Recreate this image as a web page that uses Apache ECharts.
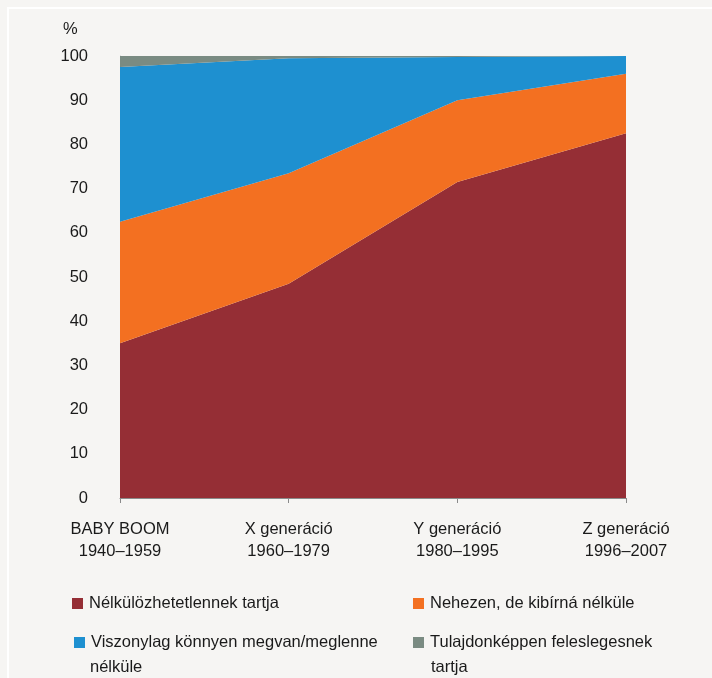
<!DOCTYPE html>
<html>
<head>
<meta charset="utf-8">
<script src="https://cdn.jsdelivr.net/npm/echarts@6/dist/echarts.min.js"></script>
<style>
html,body{margin:0;padding:0;background:#f6f5f3;}
#c{width:712px;height:678px;}
</style>
</head>
<body>
<div id="c"></div>
<script>
const categories = ['BABY BOOM\n1940–1959', 'X generáció\n1960–1979', 'Y generáció\n1980–1995', 'Z generáció\n1996–2007'];
const seriesNames = ['Nélkülözhetetlennek tartja', 'Nehezen, de kibírná nélküle', 'Viszonylag könnyen megvan/meglenne', 'Tulajdonképpen feleslegesnek'];
const essential = [35, 48.5, 71.5, 82.5];
const hardButOk = [27.5, 25, 18.5, 13.5];
const easy = [35, 26, 9.8, 4];
const unnecessary = [2.5, 0.5, 0.2, 0];
const yTicks = [0, 100, 10];
const colors = ['#952e35', '#f37021', '#1e90d0', '#7a8b82'];

const FONT = "'Liberation Sans', Arial, sans-serif";
const FS = 16.5;
const chart = echarts.init(document.getElementById('c'));

function mkSeries(name, data, color) {
  return {
    name: name, type: 'line', stack: 'total', data: data,
    symbol: 'none', smooth: false,
    lineStyle: { width: 0, color: color },
    itemStyle: { color: color },
    areaStyle: { color: color, opacity: 1 },
    emphasis: { disabled: true }
  };
}

function mkLegend(name, left, top) {
  return {
    data: [name], left: left, top: top, padding: 0,
    orient: 'horizontal', icon: 'rect', itemWidth: 11, itemHeight: 11,
    selectedMode: false,
    textStyle: { fontFamily: FONT, fontSize: FS, color: '#1a1a1a', padding: [0, 0, 0, 1] }
  };
}

chart.setOption({
  backgroundColor: '#f6f5f3',
  animation: false,
  grid: { left: 120, right: 86, top: 56, bottom: 180, containLabel: false, outerBoundsMode: 'none' },
  xAxis: {
    type: 'category', data: categories, boundaryGap: false,
    axisLine: { lineStyle: { color: '#8a8a8a', width: 1 } },
    axisTick: { show: true, length: 5, lineStyle: { color: '#8a8a8a' } },
    axisLabel: { fontFamily: FONT, fontSize: FS, color: '#1a1a1a', margin: 20, lineHeight: 22, interval: 0 },
    splitLine: { show: false }
  },
  yAxis: {
    type: 'value', min: yTicks[0], max: yTicks[1], interval: yTicks[2],
    axisLine: { show: true, lineStyle: { color: '#c4c4c4', width: 1 } },
    axisTick: { show: false },
    axisLabel: { fontFamily: FONT, fontSize: FS, color: '#1a1a1a', margin: 32 },
    splitLine: { show: false }
  },
  legend: [
    mkLegend(seriesNames[0], 72, 595),
    mkLegend(seriesNames[1], 413, 595),
    mkLegend(seriesNames[2], 74, 634),
    mkLegend(seriesNames[3], 413, 634)
  ],
  graphic: [
    { type: 'rect', shape: { x: 8, y: 8, width: 800, height: 800 }, style: { fill: 'none', stroke: '#ffffff', lineWidth: 2 }, z: 0, silent: true },
    { type: 'text', left: 63, top: 21, style: { text: '%', fontFamily: FONT, fontSize: FS, fill: '#1a1a1a' } },
    { type: 'text', left: 90, top: 659, style: { text: 'nélküle', fontFamily: FONT, fontSize: FS, fill: '#1a1a1a' } },
    { type: 'text', left: 431, top: 659, style: { text: 'tartja', fontFamily: FONT, fontSize: FS, fill: '#1a1a1a' } }
  ],
  series: [
    mkSeries(seriesNames[0], essential, colors[0]),
    mkSeries(seriesNames[1], hardButOk, colors[1]),
    mkSeries(seriesNames[2], easy, colors[2]),
    mkSeries(seriesNames[3], unnecessary, colors[3])
  ]
});
</script>
</body>
</html>
